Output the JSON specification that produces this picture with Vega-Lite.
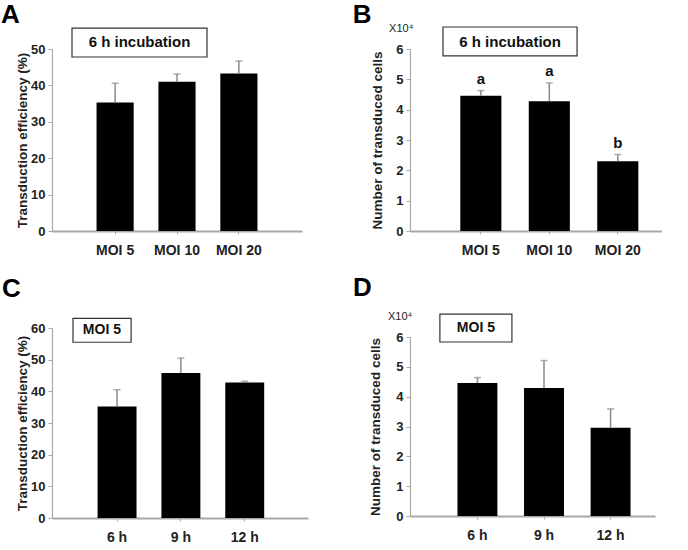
{
  "$schema": "https://vega.github.io/schema/vega-lite/v6.json",
  "background": "white",
  "padding": {"left": 1, "top": 1, "right": 0, "bottom": 0},
  "bounds": "flush",
  "spacing": 358,
  "hconcat": [
    {
      "bounds": "flush",
      "spacing": 97,
      "vconcat": [
        {
          "width": 250, "height": 182,
          "layer": [
            {
              "data": {"values": [
                {"group": "MOI 5", "mean": 35.3, "upper": 40.6},
                {"group": "MOI 10", "mean": 41.0, "upper": 43.1},
                {"group": "MOI 20", "mean": 43.3, "upper": 46.7}
              ]},
              "encoding": {
                "x": {"field": "group", "type": "nominal", "sort": null, "scale": {"paddingInner": 0.4, "paddingOuter": 0.72, "align": 0.5}, "axis": {"title": null}}
              },
              "layer": [
                {"mark": {"type": "bar", "color": "#000000"},
                 "encoding": {"y": {"field": "mean", "type": "quantitative", "title": "Transduction efficiency (%)", "scale": {"domain": [0, 50]}, "axis": {"values": [0, 10, 20, 30, 40, 50], "titlePadding": 1}}}},
                {"mark": {"type": "rule", "color": "#8a8a8a", "strokeWidth": 1.5},
                 "encoding": {"y": {"field": "mean", "type": "quantitative", "title": "Transduction efficiency (%)", "scale": {"domain": [0, 50]}, "axis": {"values": [0, 10, 20, 30, 40, 50], "titlePadding": 1}}, "y2": {"field": "upper"}}},
                {"mark": {"type": "tick", "color": "#8a8a8a", "size": 7, "thickness": 1.5},
                 "encoding": {"y": {"field": "upper", "type": "quantitative", "title": "Transduction efficiency (%)", "scale": {"domain": [0, 50]}, "axis": {"values": [0, 10, 20, 30, 40, 50], "titlePadding": 1}}}}
              ]
            },
            {
              "data": {"values": [{"panel": "A", "label": "6 h incubation"}]},
              "layer": [
                {"mark": {"type": "rect", "fill": "white", "stroke": "#333333", "strokeWidth": 1.2},
                 "encoding": {"x": {"datum": 0.08, "type": "quantitative", "scale": {"domain": [0, 1]}, "axis": null}, "x2": {"datum": 0.62},
                              "y": {"datum": 0.956, "type": "quantitative", "scale": {"domain": [0, 1]}, "axis": null}, "y2": {"datum": 1.115}}},
                {"mark": {"type": "text", "fontSize": 15, "fontWeight": "bold", "color": "#111111"},
                 "encoding": {"text": {"field": "label"}, "x": {"datum": 0.35, "type": "quantitative"}, "y": {"datum": 1.036, "type": "quantitative"}}},
                {"mark": {"type": "text", "fontSize": 26, "fontWeight": "bold", "align": "left", "baseline": "alphabetic", "color": "#000000"},
                 "encoding": {"text": {"field": "panel"}, "x": {"datum": -0.204, "type": "quantitative"}, "y": {"datum": 1.143, "type": "quantitative"}}}
              ]
            }
          ],
          "resolve": {"scale": {"x": "independent", "y": "independent"}}
        },
        {
          "width": 256, "height": 190,
          "layer": [
            {
              "data": {"values": [
                {"group": "6 h", "mean": 35.2, "upper": 40.5},
                {"group": "9 h", "mean": 45.8, "upper": 50.5},
                {"group": "12 h", "mean": 42.8, "upper": 43.2}
              ]},
              "encoding": {
                "x": {"field": "group", "type": "nominal", "sort": null, "scale": {"paddingInner": 0.39, "paddingOuter": 0.7, "align": 0.51}, "axis": {"title": null}}
              },
              "layer": [
                {"mark": {"type": "bar", "color": "#000000"},
                 "encoding": {"y": {"field": "mean", "type": "quantitative", "title": "Transduction efficiency (%)", "scale": {"domain": [0, 60]}, "axis": {"values": [0, 10, 20, 30, 40, 50, 60], "titlePadding": 1}}}},
                {"mark": {"type": "rule", "color": "#8a8a8a", "strokeWidth": 1.5},
                 "encoding": {"y": {"field": "mean", "type": "quantitative", "title": "Transduction efficiency (%)", "scale": {"domain": [0, 60]}, "axis": {"values": [0, 10, 20, 30, 40, 50, 60], "titlePadding": 1}}, "y2": {"field": "upper"}}},
                {"mark": {"type": "tick", "color": "#8a8a8a", "size": 7, "thickness": 1.5},
                 "encoding": {"y": {"field": "upper", "type": "quantitative", "title": "Transduction efficiency (%)", "scale": {"domain": [0, 60]}, "axis": {"values": [0, 10, 20, 30, 40, 50, 60], "titlePadding": 1}}}}
              ]
            },
            {
              "data": {"values": [{"panel": "C", "label": "MOI 5"}]},
              "layer": [
                {"mark": {"type": "rect", "fill": "white", "stroke": "#333333", "strokeWidth": 1.2},
                 "encoding": {"x": {"datum": 0.082, "type": "quantitative", "scale": {"domain": [0, 1]}, "axis": null}, "x2": {"datum": 0.309},
                              "y": {"datum": 0.925, "type": "quantitative", "scale": {"domain": [0, 1]}, "axis": null}, "y2": {"datum": 1.051}}},
                {"mark": {"type": "text", "fontSize": 14, "fontWeight": "bold", "color": "#111111"},
                 "encoding": {"text": {"field": "label"}, "x": {"datum": 0.195, "type": "quantitative"}, "y": {"datum": 0.988, "type": "quantitative"}}},
                {"mark": {"type": "text", "fontSize": 26, "fontWeight": "bold", "align": "left", "baseline": "alphabetic", "color": "#000000"},
                 "encoding": {"text": {"field": "panel"}, "x": {"datum": -0.195, "type": "quantitative"}, "y": {"datum": 1.162, "type": "quantitative"}}}
              ]
            }
          ],
          "resolve": {"scale": {"x": "independent", "y": "independent"}}
        }
      ]
    },
    {
      "bounds": "flush",
      "spacing": 106,
      "vconcat": [
        {
          "width": 252, "height": 182,
          "layer": [
            {
              "data": {"values": [
                {"group": "MOI 5", "mean": 4.46, "upper": 4.63, "sig": "a"},
                {"group": "MOI 10", "mean": 4.28, "upper": 4.88, "sig": "a"},
                {"group": "MOI 20", "mean": 2.30, "upper": 2.52, "sig": "b"}
              ]},
              "encoding": {
                "x": {"field": "group", "type": "nominal", "sort": null, "scale": {"paddingInner": 0.4, "paddingOuter": 0.54, "align": 0.68}, "axis": {"title": null}}
              },
              "layer": [
                {"mark": {"type": "bar", "color": "#000000"},
                 "encoding": {"y": {"field": "mean", "type": "quantitative", "title": "Number of transduced cells", "scale": {"domain": [0, 6]}, "axis": {"values": [0, 1, 2, 3, 4, 5, 6], "titlePadding": 11}}}},
                {"mark": {"type": "rule", "color": "#8a8a8a", "strokeWidth": 1.5},
                 "encoding": {"y": {"field": "mean", "type": "quantitative", "title": "Number of transduced cells", "scale": {"domain": [0, 6]}, "axis": {"values": [0, 1, 2, 3, 4, 5, 6], "titlePadding": 11}}, "y2": {"field": "upper"}}},
                {"mark": {"type": "tick", "color": "#8a8a8a", "size": 7, "thickness": 1.5},
                 "encoding": {"y": {"field": "upper", "type": "quantitative", "title": "Number of transduced cells", "scale": {"domain": [0, 6]}, "axis": {"values": [0, 1, 2, 3, 4, 5, 6], "titlePadding": 11}}}},
                {"mark": {"type": "text", "fontSize": 15, "fontWeight": "bold", "baseline": "bottom", "dy": -4, "color": "#111111"},
                 "encoding": {"y": {"field": "upper", "type": "quantitative", "title": "Number of transduced cells", "scale": {"domain": [0, 6]}, "axis": {"values": [0, 1, 2, 3, 4, 5, 6], "titlePadding": 11}}, "text": {"field": "sig"}}}
              ]
            },
            {
              "data": {"values": [{"panel": "B", "label": "6 h incubation", "unit": "X10⁴"}]},
              "layer": [
                {"mark": {"type": "rect", "fill": "white", "stroke": "#333333", "strokeWidth": 1.2},
                 "encoding": {"x": {"datum": 0.131, "type": "quantitative", "scale": {"domain": [0, 1]}, "axis": null}, "x2": {"datum": 0.663},
                              "y": {"datum": 0.962, "type": "quantitative", "scale": {"domain": [0, 1]}, "axis": null}, "y2": {"datum": 1.121}}},
                {"mark": {"type": "text", "fontSize": 15, "fontWeight": "bold", "color": "#111111"},
                 "encoding": {"text": {"field": "label"}, "x": {"datum": 0.397, "type": "quantitative"}, "y": {"datum": 1.041, "type": "quantitative"}}},
                {"mark": {"type": "text", "fontSize": 26, "fontWeight": "bold", "align": "left", "baseline": "alphabetic", "color": "#000000"},
                 "encoding": {"text": {"field": "panel"}, "x": {"datum": -0.227, "type": "quantitative"}, "y": {"datum": 1.143, "type": "quantitative"}}},
                {"mark": {"type": "text", "fontSize": 11, "align": "left", "baseline": "middle", "color": "#222222"},
                 "encoding": {"text": {"field": "unit"}, "x": {"datum": -0.083, "type": "quantitative"}, "y": {"datum": 1.11, "type": "quantitative"}}}
              ]
            }
          ],
          "resolve": {"scale": {"x": "independent", "y": "independent"}}
        },
        {
          "width": 245, "height": 179,
          "layer": [
            {
              "data": {"values": [
                {"group": "6 h", "mean": 4.46, "upper": 4.64},
                {"group": "9 h", "mean": 4.29, "upper": 5.21},
                {"group": "12 h", "mean": 2.96, "upper": 3.59}
              ]},
              "encoding": {
                "x": {"field": "group", "type": "nominal", "sort": null, "scale": {"paddingInner": 0.4, "paddingOuter": 0.54, "align": 0.66}, "axis": {"title": null}}
              },
              "layer": [
                {"mark": {"type": "bar", "color": "#000000"},
                 "encoding": {"y": {"field": "mean", "type": "quantitative", "title": "Number of transduced cells", "scale": {"domain": [0, 6]}, "axis": {"values": [0, 1, 2, 3, 4, 5, 6], "titlePadding": 13}}}},
                {"mark": {"type": "rule", "color": "#8a8a8a", "strokeWidth": 1.5},
                 "encoding": {"y": {"field": "mean", "type": "quantitative", "title": "Number of transduced cells", "scale": {"domain": [0, 6]}, "axis": {"values": [0, 1, 2, 3, 4, 5, 6], "titlePadding": 13}}, "y2": {"field": "upper"}}},
                {"mark": {"type": "tick", "color": "#8a8a8a", "size": 7, "thickness": 1.5},
                 "encoding": {"y": {"field": "upper", "type": "quantitative", "title": "Number of transduced cells", "scale": {"domain": [0, 6]}, "axis": {"values": [0, 1, 2, 3, 4, 5, 6], "titlePadding": 13}}}}
              ]
            },
            {
              "data": {"values": [{"panel": "D", "label": "MOI 5", "unit": "X10⁴"}]},
              "layer": [
                {"mark": {"type": "rect", "fill": "white", "stroke": "#333333", "strokeWidth": 1.2},
                 "encoding": {"x": {"datum": 0.122, "type": "quantitative", "scale": {"domain": [0, 1]}, "axis": null}, "x2": {"datum": 0.416},
                              "y": {"datum": 0.972, "type": "quantitative", "scale": {"domain": [0, 1]}, "axis": null}, "y2": {"datum": 1.128}}},
                {"mark": {"type": "text", "fontSize": 14, "fontWeight": "bold", "color": "#111111"},
                 "encoding": {"text": {"field": "label"}, "x": {"datum": 0.269, "type": "quantitative"}, "y": {"datum": 1.05, "type": "quantitative"}}},
                {"mark": {"type": "text", "fontSize": 26, "fontWeight": "bold", "align": "left", "baseline": "alphabetic", "color": "#000000"},
                 "encoding": {"text": {"field": "panel"}, "x": {"datum": -0.233, "type": "quantitative"}, "y": {"datum": 1.231, "type": "quantitative"}}},
                {"mark": {"type": "text", "fontSize": 11, "align": "left", "baseline": "middle", "color": "#222222"},
                 "encoding": {"text": {"field": "unit"}, "x": {"datum": -0.09, "type": "quantitative"}, "y": {"datum": 1.11, "type": "quantitative"}}}
              ]
            }
          ],
          "resolve": {"scale": {"x": "independent", "y": "independent"}}
        }
      ]
    }
  ],
  "config": {
    "font": "Liberation Sans",
    "view": {"stroke": null},
    "axis": {"grid": false, "labelFont": "Liberation Sans", "titleFont": "Liberation Sans", "labelFontWeight": "bold", "titleFontWeight": "bold", "domainColor": "#a8a8a8", "tickColor": "#a8a8a8", "labelColor": "#222222", "titleColor": "#222222"},
    "axisY": {"labelFontSize": 13, "titleFontSize": 13.5, "tickSize": 4, "labelPadding": 3, "domainWidth": 1.2},
    "axisX": {"labelFontSize": 14, "tickSize": 3, "labelPadding": 9, "labelAngle": 0, "domainWidth": 2}
  }
}
